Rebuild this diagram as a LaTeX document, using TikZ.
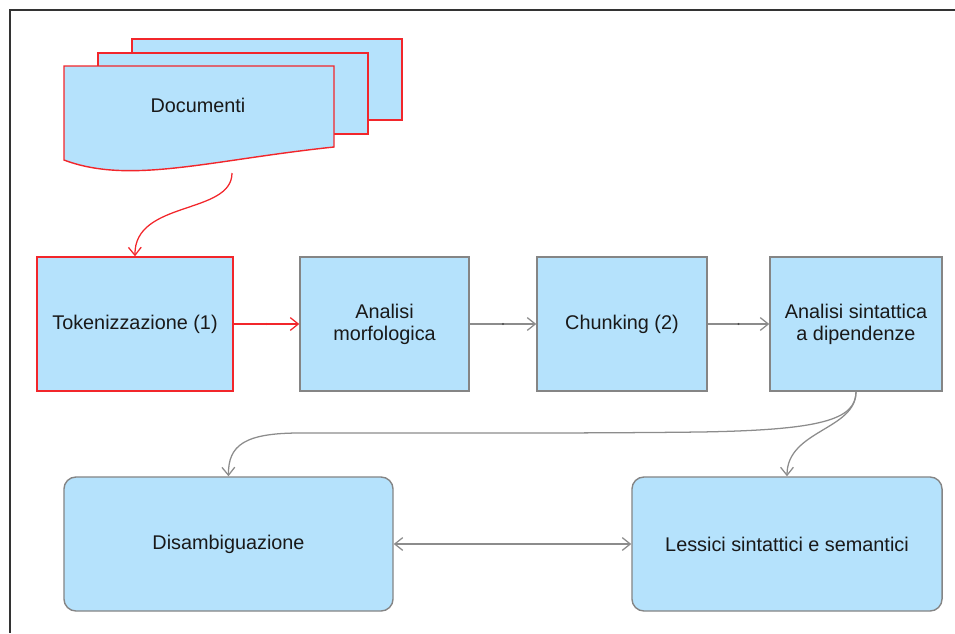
\documentclass[tikz,border=0pt]{standalone}
\usepackage{fontspec}
\setmainfont{Liberation Sans}
\usetikzlibrary{arrows.meta}
\definecolor{boxblue}{HTML}{B5E2FC}
\definecolor{boxgray}{HTML}{858585}
\definecolor{docred}{HTML}{F2262B}
\definecolor{linkgray}{HTML}{8C8C8C}
\tikzset{
    every node/.style={font=\fontsize{14.1}{15.5}\selectfont, text=black!90},
    stepbox/.style={rectangle,draw=boxgray,fill=boxblue,line width=1pt,
        minimum height=3.35cm,align=center,inner sep=2pt},
    redbox/.style={stepbox,draw=docred},
    roundbox/.style={stepbox,rounded corners=0.3cm},
    sheet/.style={draw=docred,fill=boxblue,line width=1pt},
    barb/.tip={Straight Barb[length=2mm,width=3.2mm]},
    link/.style={draw=linkgray,line width=0.9pt,-barb},
    redlink/.style={link,draw=docred},
    twoway/.style={draw=linkgray,line width=0.9pt,barb-barb},
    middot/.style={circle,fill=#1,inner sep=0pt,minimum size=1.6pt},
    frame/.style={draw=black!80,line width=1.2pt},
}
\begin{document}
\begin{tikzpicture}[x=0.025cm,y=-0.025cm]
\useasboundingbox (0,0) rectangle (955,633);
\draw[frame] (955,10) -- (10,10) -- (10,633);

% stack of documents
\foreach \dx/\dy in {68/-27,34/-13} {
    \draw[sheet] (64+\dx,66+\dy) rectangle ++(270,81);
}
\draw[sheet] (64,160) -- (64,66) -- (334,66) -- (334,147)
    .. controls (210,160) and (130,185) .. cycle;
\node (docs) at (198,105) {Documenti};
\coordinate (docout) at (232,173);

% pipeline
\node[redbox,minimum width=4.9cm] (tok) at (135,324) {Tokenizzazione (1)};
\node[stepbox,minimum width=4.225cm] (morf) at (384.5,324) {Analisi\\morfologica};
\node[stepbox,minimum width=4.25cm] (chunk) at (622,324) {Chunking (2)};
\node[stepbox,minimum width=4.3cm] (sint) at (856,324) {Analisi sintattica\\a dipendenze};

\node[roundbox,minimum width=8.225cm] (dis) at (228.5,544) {Disambiguazione};
\node[roundbox,minimum width=7.75cm] (less) at (787,544) {Lessici sintattici e semantici};

\draw[redlink] (docout) .. controls (232,215) and (134,200) .. (tok.north);
\draw[redlink] (tok) -- node[middot=docred] (d1) {} (morf);
\draw[link] (morf) -- node[middot=black!70] (d2) {} (chunk);
\draw[link] (chunk) -- node[middot=black!70] (d3) {} (sint);

\draw[link] (sint.south) .. controls (856,420) and (820,430) .. (700,432)
    .. controls (580,433.5) and (420,433) .. (300,433)
    .. controls (245,433) and (228,445) .. (dis.north);
\draw[link] (sint.south) .. controls (856,430) and (787,430) .. (less.north);
\draw[twoway] (dis) -- (less);
\end{tikzpicture}
\end{document}
